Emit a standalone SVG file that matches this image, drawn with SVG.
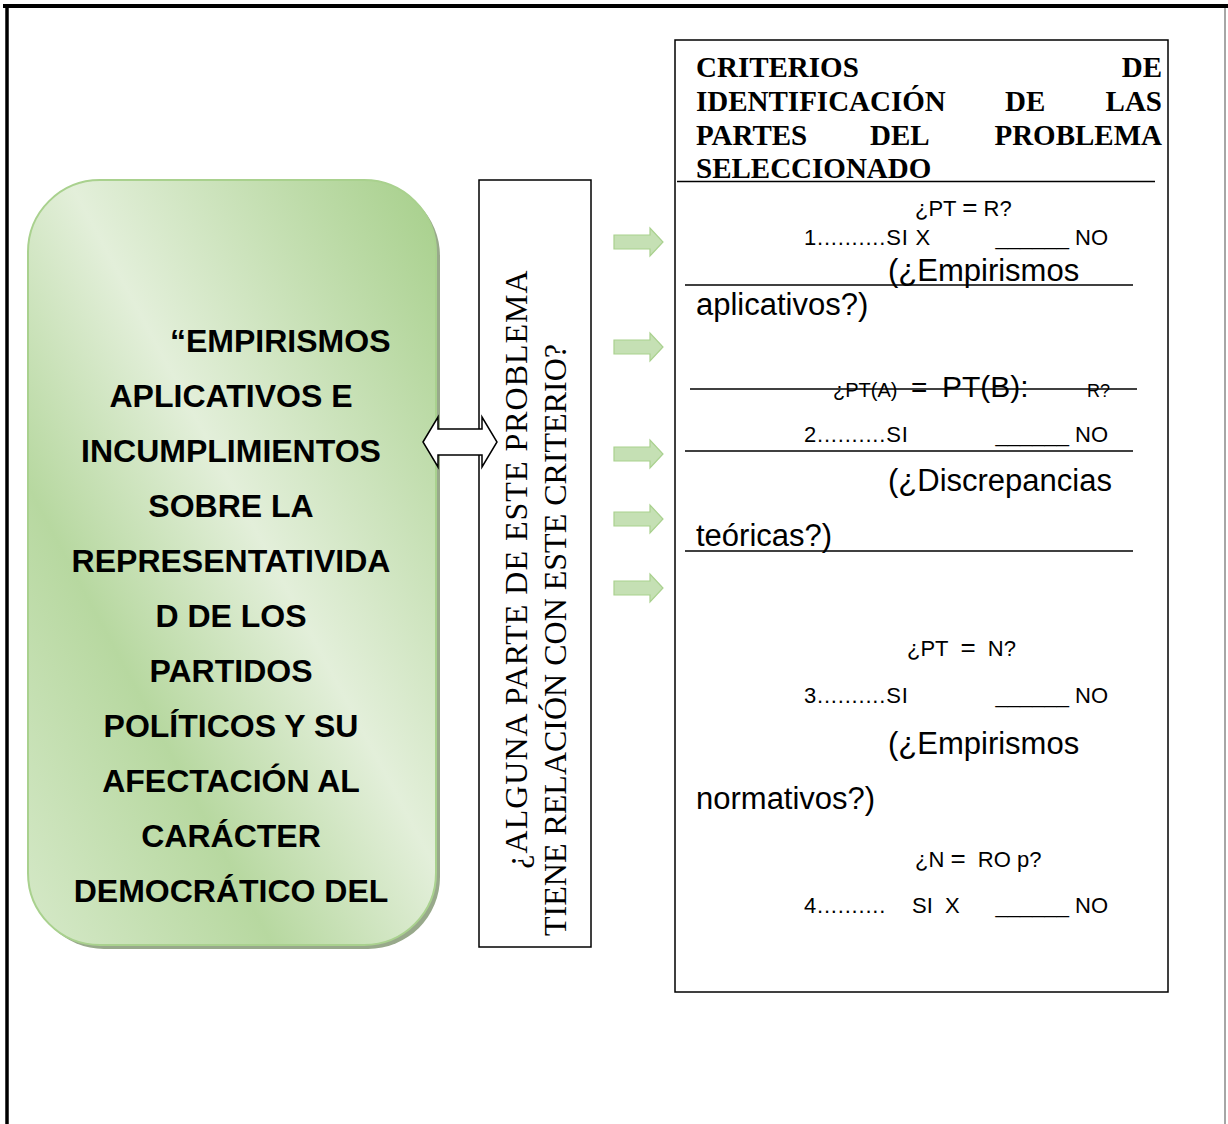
<svg xmlns="http://www.w3.org/2000/svg" width="1228" height="1124" viewBox="0 0 1228 1124">
<defs>
<linearGradient id="gbox" x1="1" y1="0" x2="0" y2="1">
<stop offset="0" stop-color="#a6cf8a"/>
<stop offset="0.45" stop-color="#e3efda"/>
<stop offset="0.7" stop-color="#b7d8a0"/>
<stop offset="1" stop-color="#d6e9c9"/>
</linearGradient>
</defs>
<style>
.sans{font-family:"Liberation Sans",Arial,sans-serif;fill:#000;white-space:pre}
.serif{font-family:"Liberation Serif","Times New Roman",serif;fill:#000}
.gt{font-family:"Liberation Sans",Arial,sans-serif;font-weight:bold;font-size:32px;text-anchor:middle;fill:#000}
.hd{font-family:"Liberation Serif","Times New Roman",serif;font-weight:bold;font-size:29px;fill:#000}
.s21{font-size:22px}
.s31{font-size:31px}
.ln{stroke:#000;stroke-width:1.5;fill:none}
.garrow{fill:#c5e0b4;stroke:#a9d18e;stroke-width:1.2}
</style>
<rect x="0" y="0" width="1228" height="1124" fill="#fff"/>
<g id="frame">
<line x1="3" y1="6" x2="1228" y2="6" stroke="#000" stroke-width="4"/>
<line x1="7" y1="4" x2="7" y2="1124" stroke="#000" stroke-width="3.5"/>
<line x1="1225" y1="8" x2="1225" y2="1124" stroke="#888" stroke-width="1.5"/>
</g>
<g id="problem-node">
<rect x="32" y="184" width="408" height="765" rx="72" fill="#98a98b"/>
<rect x="28" y="180" width="408" height="765" rx="72" fill="url(#gbox)" stroke="#a9d18e" stroke-width="2"/>
<text class="gt" x="170" y="352" style="text-anchor:start">“EMPIRISMOS</text>
<text class="gt" x="231" y="407">APLICATIVOS E</text>
<text class="gt" x="231" y="462">INCUMPLIMIENTOS</text>
<text class="gt" x="231" y="517">SOBRE LA</text>
<text class="gt" x="231" y="572">REPRESENTATIVIDA</text>
<text class="gt" x="231" y="627">D DE LOS</text>
<text class="gt" x="231" y="682">PARTIDOS</text>
<text class="gt" x="231" y="737">POLÍTICOS Y SU</text>
<text class="gt" x="231" y="792">AFECTACIÓN AL</text>
<text class="gt" x="231" y="847">CARÁCTER</text>
<text class="gt" x="231" y="902">DEMOCRÁTICO DEL</text>
</g>
<g id="question-node">
<rect x="479" y="180" width="112" height="767" fill="#fff" stroke="#000" stroke-width="1.5"/>
<text class="serif" font-size="32" letter-spacing="1" text-anchor="middle" transform="translate(527,569) rotate(-90)">¿ALGUNA PARTE DE ESTE PROBLEMA</text>
<text class="serif" font-size="32" text-anchor="middle" transform="translate(566,640) rotate(-90)">TIENE RELACIÓN CON ESTE CRITERIO?</text>
</g>
<g id="criteria-node">
<rect x="675" y="40" width="493" height="952" fill="#fff" stroke="#000" stroke-width="1.5"/>
<text class="hd" x="696" y="77">CRITERIOS</text>
<text class="hd" x="1162" y="77" text-anchor="end">DE</text>
<text class="hd" x="696" y="111">IDENTIFICACIÓN</text>
<text class="hd" x="1005" y="111">DE</text>
<text class="hd" x="1162" y="111" text-anchor="end">LAS</text>
<text class="hd" x="696" y="145">PARTES</text>
<text class="hd" x="870" y="145">DEL</text>
<text class="hd" x="1162" y="145" text-anchor="end">PROBLEMA</text>
<text class="hd" x="696" y="178">SELECCIONADO</text>
<line class="ln" x1="677" y1="181.5" x2="1155" y2="181.5"/>

<text class="sans s21" x="915" y="216">¿PT <tspan font-size="26">=</tspan> R?</text>
<text class="sans s21" x="804" y="245" letter-spacing="0.8">1..........SI X</text>
<text class="sans s21" x="1108" y="245" text-anchor="end">______ NO</text>
<text class="sans s31" x="888" y="281">(¿Empirismos</text>
<line class="ln" x1="685" y1="285" x2="1133" y2="285"/>
<text class="sans s31" x="696" y="315">aplicativos?)</text>

<text class="sans" x="833" y="397" font-size="20">¿PT(A)</text>
<text class="sans" x="911" y="397" font-size="28">=</text>
<text class="sans" x="942" y="397" font-size="30">PT(B):</text>
<text class="sans" x="1087" y="397" font-size="18">R?</text>
<line class="ln" x1="690" y1="389" x2="1137" y2="389"/>

<text class="sans s21" x="804" y="442" letter-spacing="0.8">2..........SI</text>
<text class="sans s21" x="1108" y="442" text-anchor="end">______ NO</text>
<line class="ln" x1="685" y1="451" x2="1133" y2="451"/>
<text class="sans s31" x="888" y="491">(¿Discrepancias</text>
<text class="sans s31" x="696" y="546">teóricas?)</text>
<line class="ln" x1="685" y1="551" x2="1133" y2="551"/>

<text class="sans s21" x="907" y="656">¿PT  <tspan font-size="26">=</tspan>  N?</text>
<text class="sans s21" x="804" y="703" letter-spacing="0.8">3..........SI</text>
<text class="sans s21" x="1108" y="703" text-anchor="end">______ NO</text>
<text class="sans s31" x="888" y="754">(¿Empirismos</text>
<text class="sans s31" x="696" y="809">normativos?)</text>
<text class="sans s21" x="915" y="867">¿N <tspan font-size="26">=</tspan>  RO p?</text>
<text class="sans s21" x="804" y="913" letter-spacing="0.8">4..........</text>
<text class="sans s21" x="912" y="913">SI  X</text>
<text class="sans s21" x="1108" y="913" text-anchor="end">______ NO</text>
</g>
<g id="connectors">
<polygon points="423,442 438,417 438,429 482,429 482,417 497,442 482,467 482,455 438,455 438,467" fill="#fff" stroke="#000" stroke-width="1.5"/>
<path class="garrow" d="M614,235 H650 V228 L663,242 L650,256 V249 H614 Z"/>
<path class="garrow" d="M614,340 H650 V333 L663,347 L650,361 V354 H614 Z"/>
<path class="garrow" d="M614,447 H650 V440 L663,454 L650,468 V461 H614 Z"/>
<path class="garrow" d="M614,512 H650 V505 L663,519 L650,533 V526 H614 Z"/>
<path class="garrow" d="M614,581 H650 V574 L663,588 L650,602 V595 H614 Z"/>
</g>
</svg>
